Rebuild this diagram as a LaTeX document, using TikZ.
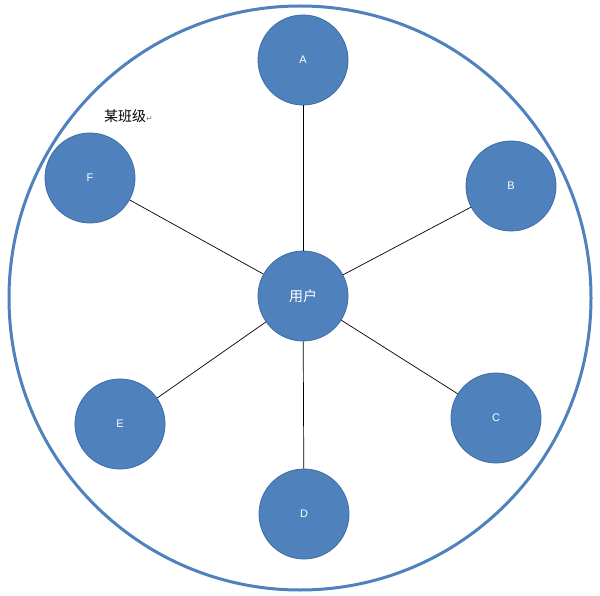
\documentclass[tikz,border=0pt]{standalone}
\usepackage{fontspec}
\newfontfamily\cjk{Noto Sans CJK SC}
\newfontfamily\dvs{DejaVu Sans}
\setmainfont{Liberation Sans}
\definecolor{wblue}{HTML}{4F81BD}
\definecolor{wedge}{HTML}{3D6DA6}
\begin{document}
\begin{tikzpicture}[x=1pt,y=-1pt,
  member/.style={circle,fill=wblue,draw=wedge,line width=0.8pt,minimum size=90pt,inner sep=0pt,text=white,font=\fontsize{11}{13}\selectfont},
  link/.style={draw=black,line width=0.7pt}]
\useasboundingbox (0,0) rectangle (600,596);
\fill[white] (0,0) rectangle (600,596);
\draw[wblue,line width=3pt] (300,298) ellipse (291 and 292);
\node[member] (u) at (303,296) {\cjk\fontsize{14}{16}\selectfont 用户};
\node[member] (a) at (303,60) {A};
\node[member] (b) at (511,186) {B};
\node[member] (c) at (496,418) {C};
\node[member] (d) at (304,514) {D};
\node[member] (e) at (120,424) {E};
\node[member] (f) at (90,178) {F};
\foreach \n in {a,b,c,d,e,f} \draw[link] (u) -- (\n);
\node[anchor=west,inner sep=0pt] (lbl) at (104,116) {\cjk\fontsize{14}{16}\selectfont 某班级\textcolor{gray}{\dvs\fontsize{8}{9}\selectfont ↵}};
\end{tikzpicture}
\end{document}
